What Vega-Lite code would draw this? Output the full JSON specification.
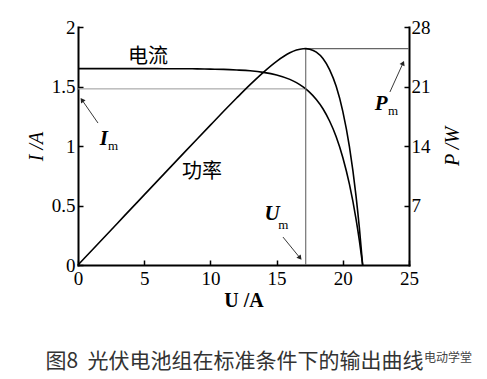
{
  "$schema": "https://vega.github.io/schema/vega-lite/v6.json",
  "width": 331,
  "height": 238,
  "autosize": "none",
  "padding": {"left": 78, "top": 27, "right": 78, "bottom": 114},
  "background": "white",
  "config": {
    "view": {"stroke": null},
    "font": "Liberation Serif",
    "axis": {
      "grid": false,
      "domainColor": "black",
      "domainWidth": 2,
      "domainCap": "square",
      "tickColor": "black",
      "tickWidth": 1.5,
      "tickSize": -5,
      "labelFont": "Liberation Serif",
      "labelFontSize": 19,
      "labelColor": "black",
      "titleFont": "Liberation Serif",
      "titleFontSize": 20,
      "titleColor": "black",
      "titleFontWeight": "normal"
    },
    "title": {"font": "Noto Sans CJK SC"}
  },
  "title": {
    "text": "图8\u00a0\u00a0光伏电池组在标准条件下的输出曲线",
    "orient": "bottom",
    "anchor": "middle",
    "fontSize": 21,
    "fontWeight": "normal",
    "color": "#333333",
    "offset": 6,
    "dy": -19,
    "dx": -9
  },
  "datasets": {
    "curve": [
      {"U": 0, "I": 1.65, "P": 0},
      {"U": 1, "I": 1.65, "P": 1.65},
      {"U": 2, "I": 1.65, "P": 3.3},
      {"U": 3, "I": 1.65, "P": 4.95},
      {"U": 4, "I": 1.65, "P": 6.6},
      {"U": 5, "I": 1.65, "P": 8.25},
      {"U": 6, "I": 1.65, "P": 9.9},
      {"U": 7, "I": 1.649, "P": 11.54},
      {"U": 8, "I": 1.649, "P": 13.19},
      {"U": 9, "I": 1.648, "P": 14.83},
      {"U": 10, "I": 1.646, "P": 16.46},
      {"U": 11, "I": 1.644, "P": 18.08},
      {"U": 12, "I": 1.639, "P": 19.67},
      {"U": 13, "I": 1.632, "P": 21.22},
      {"U": 14, "I": 1.619, "P": 22.67},
      {"U": 15, "I": 1.597, "P": 23.96},
      {"U": 16, "I": 1.56, "P": 24.96},
      {"U": 16.5, "I": 1.533, "P": 25.29},
      {"U": 17, "I": 1.497, "P": 25.45},
      {"U": 17.2, "I": 1.48, "P": 25.46},
      {"U": 17.5, "I": 1.451, "P": 25.39},
      {"U": 18, "I": 1.391, "P": 25.04},
      {"U": 18.5, "I": 1.313, "P": 24.29},
      {"U": 19, "I": 1.21, "P": 22.99},
      {"U": 19.5, "I": 1.078, "P": 21.02},
      {"U": 20, "I": 0.904, "P": 18.08},
      {"U": 20.5, "I": 0.679, "P": 13.92},
      {"U": 21, "I": 0.386, "P": 8.11},
      {"U": 21.25, "I": 0.207, "P": 4.4},
      {"U": 21.5, "I": 0, "P": 0}
    ],
    "hline": [{"U": 0, "U2": 17.2, "I": 1.48, "I2": 1.48}],
    "pguides": [
      {"U": 17.2, "U2": 17.2, "P": 0, "P2": 25.46},
      {"U": 17.2, "U2": 25, "P": 25.46, "P2": 25.46}
    ],
    "arrows": [
      {"name": "Im", "U": 1.51, "I": 1.193, "U2": 0.3, "I2": 1.387},
      {"name": "Pm", "U": 23.56, "I": 1.454, "U2": 24.55, "I2": 1.697},
      {"name": "Um", "U": 15.48, "I": 0.235, "U2": 16.77, "I2": 0.059}
    ],
    "labels": [
      {"text": "电流", "U": 5.29, "I": 1.748},
      {"text": "功率", "U": 9.37, "I": 0.78}
    ],
    "syms": [
      {"text": "I", "U": 1.96, "I": 1.06},
      {"text": "P", "U": 22.9, "I": 1.353},
      {"text": "U", "U": 14.65, "I": 0.43}
    ],
    "subs": [
      {"text": "m", "U": 2.64, "I": 1.0},
      {"text": "m", "U": 23.8, "I": 1.29},
      {"text": "m", "U": 15.5, "I": 0.34}
    ],
    "mark": [
      {"text": "电动学堂", "U": 27.95, "I": -0.78}
    ]
  },
  "encoding": {
    "x": {
      "field": "U",
      "type": "quantitative",
      "scale": {"domain": [0, 25], "nice": false, "zero": false},
      "axis": {
        "values": [0, 5, 10, 15, 20, 25],
        "title": "U /A",
        "titleFontWeight": "bold",
        "labelFlush": false,
        "labelPadding": 9,
        "titlePadding": 2
      }
    }
  },
  "layer": [
    {
      "encoding": {
        "y": {
          "field": "I",
          "type": "quantitative",
          "scale": {"domain": [0, 2], "nice": false, "zero": false},
          "axis": {
            "orient": "left",
            "values": [0, 0.5, 1, 1.5, 2],
            "format": "~g",
            "title": "I /A",
            "titleFontStyle": "italic",
            "labelPadding": 8,
            "titlePadding": 5
          }
        }
      },
      "layer": [
        {
          "data": {"name": "hline"},
          "mark": {"type": "rule", "color": "#999999", "strokeWidth": 1},
          "encoding": {"x2": {"field": "U2"}, "y2": {"field": "I2"}}
        },
        {
          "data": {"name": "curve"},
          "mark": {"type": "line", "color": "black", "strokeWidth": 1.6, "interpolate": "monotone"}
        },
        {
          "data": {"name": "arrows"},
          "mark": {"type": "rule", "color": "#222222", "strokeWidth": 0.9},
          "encoding": {"x2": {"field": "U2"}, "y2": {"field": "I2"}}
        },
        {
          "data": {"name": "arrows"},
          "transform": [{"filter": "datum.name === 'Im'"}],
          "mark": {"type": "point", "shape": "triangle-up", "filled": true, "color": "#222222", "size": 30, "angle": 325, "opacity": 1},
          "encoding": {"x": {"field": "U2", "type": "quantitative"}, "y": {"field": "I2", "type": "quantitative"}}
        },
        {
          "data": {"name": "arrows"},
          "transform": [{"filter": "datum.name === 'Pm'"}],
          "mark": {"type": "point", "shape": "triangle-up", "filled": true, "color": "#222222", "size": 30, "angle": 24, "opacity": 1},
          "encoding": {"x": {"field": "U2", "type": "quantitative"}, "y": {"field": "I2", "type": "quantitative"}}
        },
        {
          "data": {"name": "arrows"},
          "transform": [{"filter": "datum.name === 'Um'"}],
          "mark": {"type": "point", "shape": "triangle-up", "filled": true, "color": "#222222", "size": 30, "angle": 141, "opacity": 1},
          "encoding": {"x": {"field": "U2", "type": "quantitative"}, "y": {"field": "I2", "type": "quantitative"}}
        },
        {
          "data": {"name": "labels"},
          "mark": {"type": "text", "font": "Noto Sans CJK SC", "fontSize": 20, "color": "black", "align": "center", "baseline": "middle"},
          "encoding": {"text": {"field": "text"}}
        },
        {
          "data": {"name": "syms"},
          "mark": {"type": "text", "font": "Liberation Serif", "fontSize": 21, "fontStyle": "italic", "fontWeight": "bold", "color": "black", "align": "center", "baseline": "middle"},
          "encoding": {"text": {"field": "text"}}
        },
        {
          "data": {"name": "subs"},
          "mark": {"type": "text", "font": "Liberation Serif", "fontSize": 13, "color": "black", "align": "center", "baseline": "middle"},
          "encoding": {"text": {"field": "text"}}
        },
        {
          "data": {"name": "mark"},
          "mark": {"type": "text", "font": "Noto Sans CJK SC", "fontSize": 12, "color": "#444444", "align": "center", "baseline": "middle"},
          "encoding": {"text": {"field": "text"}}
        }
      ]
    },
    {
      "encoding": {
        "y": {
          "field": "P",
          "type": "quantitative",
          "scale": {"domain": [0, 28], "nice": false, "zero": false},
          "axis": {
            "orient": "right",
            "values": [7, 14, 21, 28],
            "title": "P /W",
            "titleAngle": 270,
            "titleFontStyle": "italic",
            "labelPadding": 7,
            "titlePadding": 32
          }
        }
      },
      "layer": [
        {
          "data": {"name": "pguides"},
          "mark": {"type": "rule", "color": "#666666", "strokeWidth": 1.1},
          "encoding": {"x2": {"field": "U2"}, "y2": {"field": "P2"}}
        },
        {
          "data": {"name": "curve"},
          "mark": {"type": "line", "color": "black", "strokeWidth": 1.6, "interpolate": "monotone"}
        }
      ]
    }
  ],
  "resolve": {"scale": {"y": "independent"}, "axis": {"y": "independent"}}
}
